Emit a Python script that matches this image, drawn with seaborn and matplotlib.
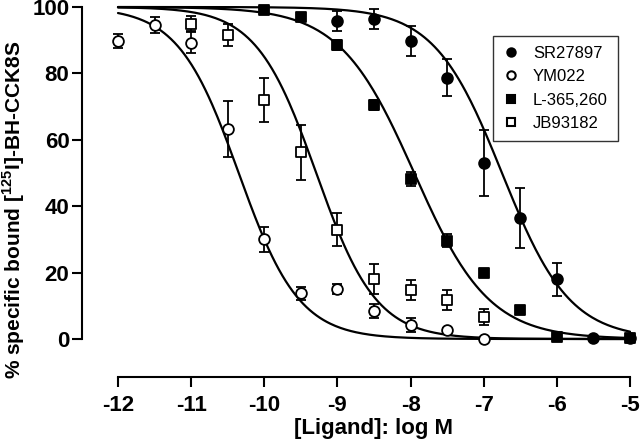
import numpy as np
import pandas as pd
import matplotlib
matplotlib.use("Agg")
import matplotlib.pyplot as plt
import seaborn as sns

# ---- data ----
series_names = ["SR27897", "YM022", "L-365,260", "JB93182"]

sr_x = [-9, -8.5, -8, -7.5, -7, -6.5, -6, -5.5, -5]
sr_y = [95.8, 96.4, 89.8, 78.7, 53.0, 36.5, 18.0, 0.3, 0.2]
sr_e = [3.0, 3.0, 4.5, 5.5, 10.0, 9.0, 5.0, 0.5, 0.3]

ym_x = [-12, -11.5, -11, -10.5, -10, -9.5, -9, -8.5, -8, -7.5, -7]
ym_y = [89.8, 94.6, 89.2, 63.2, 30.0, 13.8, 15.0, 8.4, 4.2, 2.7, 0.0]
ym_e = [2.2, 2.4, 3.2, 8.4, 3.7, 2.0, 1.5, 2.0, 2.0, 0.5, 0.3]

l3_x = [-10, -9.5, -9, -8.5, -8, -7.5, -7, -6.5, -6, -5]
l3_y = [99.2, 97.0, 88.6, 70.4, 48.2, 29.6, 20.0, 8.7, 0.6, 0.2]
l3_e = [1.0, 0.5, 1.5, 1.5, 2.0, 2.0, 1.0, 1.0, 0.5, 0.3]

jb_x = [-11, -10.5, -10, -9.5, -9, -8.5, -8, -7.5, -7]
jb_y = [95.0, 91.6, 72.0, 56.3, 32.9, 18.2, 14.7, 11.7, 6.6]
jb_e = [2.2, 3.4, 6.7, 8.3, 5.0, 4.5, 3.0, 3.0, 2.5]

# fitted one-site competition curves (logIC50, Hill slope)
fit_logic50 = [-6.75, -10.35, -7.95, -9.29]
fit_slope = [0.94, 1.05, 0.85, 1.06]

x_ticks = [-12, -11, -10, -9, -8, -7, -6, -5]
y_ticks = [0, 20, 40, 60, 80, 100]

# ---- styling ----
sns.set_style("ticks")
plt.rcParams["font.family"] = ["Liberation Sans", "DejaVu Sans"]
plt.rcParams["mathtext.fontset"] = "custom"
plt.rcParams["mathtext.rm"] = "Liberation Sans"
plt.rcParams["mathtext.bf"] = "Liberation Sans:bold"
plt.rcParams["text.color"] = "black"
plt.rcParams["axes.labelcolor"] = "black"

fig = plt.figure(figsize=(6.4, 4.43), dpi=100)
ax = fig.add_axes([118 / 640, 1 - 339 / 443, 512 / 640, 332 / 443])

# curves
xs = np.linspace(-12, -5, 300)
curve_rows = []
for name, c, n in zip(series_names, fit_logic50, fit_slope):
    ys = 100.0 / (1.0 + 10 ** (n * (xs - c)))
    curve_rows.append(pd.DataFrame({"x": xs, "y": ys, "ligand": name}))
curves = pd.concat(curve_rows, ignore_index=True)
sns.lineplot(data=curves, x="x", y="y", units="ligand", estimator=None,
             color="black", lw=1.6, ax=ax, legend=False, clip_on=False)

# points
point_sets = [
    (sr_x, sr_y, sr_e, "o", "black"),
    (ym_x, ym_y, ym_e, "o", "white"),
    (l3_x, l3_y, l3_e, "s", "black"),
    (jb_x, jb_y, jb_e, "s", "white"),
]
handles = []
for name, (px, py, pe, mk, fc) in zip(series_names, point_sets):
    ax.errorbar(px, py, yerr=pe, fmt="none", ecolor="black", elinewidth=1.3,
                capsize=3.5, capthick=1.3, clip_on=False, zorder=3)
    df = pd.DataFrame({"x": px, "y": py})
    sns.scatterplot(data=df, x="x", y="y", marker=mk, s=60 if mk == "o" else 55,
                    facecolor=fc, edgecolor="black", linewidth=1.3,
                    ax=ax, clip_on=False, zorder=4)
    handles.append(plt.Line2D([], [], ls="none", marker=mk, markersize=6,
                              markerfacecolor=fc, markeredgecolor="black",
                              markeredgewidth=1.5, label=name))

ax.set_xlim(-12, -5)
ax.set_ylim(0, 100)
ax.set_xticks(x_ticks)
ax.set_yticks(y_ticks)
ax.set_xticklabels([str(t) for t in x_ticks])
ax.set_yticklabels([str(t) for t in y_ticks])

for s in ["top", "right"]:
    ax.spines[s].set_visible(False)
ax.spines["left"].set_position(("outward", 26))
ax.spines["bottom"].set_position(("outward", 27))
for s in ["left", "bottom"]:
    ax.spines[s].set_linewidth(1.5)
    ax.spines[s].set_color("black")

ax.tick_params(axis="both", direction="out", length=7, width=1.5, color="black",
               labelsize=16, labelcolor="black")
ax.tick_params(axis="y", pad=2)
ax.tick_params(axis="x", pad=6)
for lab in ax.get_xticklabels() + ax.get_yticklabels():
    lab.set_fontweight("bold")

ax.set_xlabel("[Ligand]: log M", fontsize=16, fontweight="bold", labelpad=2,
              color="black")
ax.set_ylabel(r"% specific bound [$^{\mathbf{125}}$I]-BH-CCK8S", fontsize=15,
              fontweight="bold", color="black")
ax.yaxis.set_label_coords(-0.178, 0.39)

leg = ax.legend(handles=handles, loc="upper left",
                bbox_to_anchor=((493 - 118) / 512, (339 - 36) / 332),
                frameon=True, fancybox=False, shadow=False, fontsize=12,
                handlelength=1.0, handletextpad=0.8, labelspacing=0.5,
                borderpad=0.6, borderaxespad=0)
leg.get_frame().set_edgecolor("black")
leg.get_frame().set_linewidth(1.0)
for t in leg.get_texts():
    t.set_color("black")

fig.savefig("out.png", dpi=100)
